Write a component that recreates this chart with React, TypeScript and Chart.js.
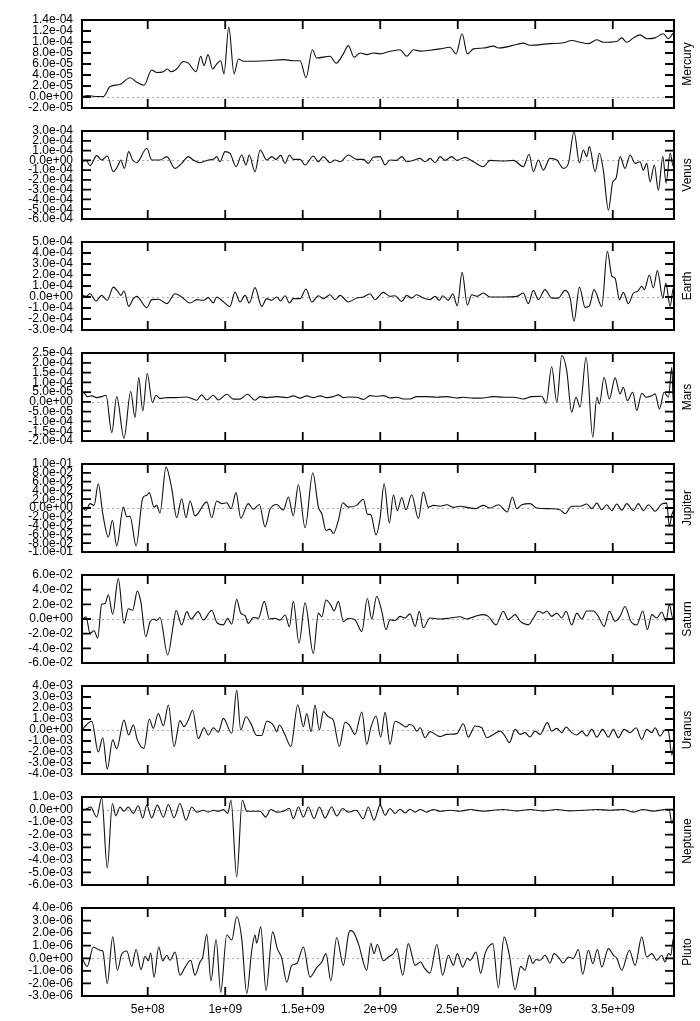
import React, { useEffect, useRef } from 'react';
import { Chart, registerables } from 'chart.js';

Chart.register(...registerables);

type Pt = [number, number];

// x values are in units of 1e9
const X_MIN = 0.076;
const X_MAX = 3.895;
const X_TICKS = [0.5, 1, 1.5, 2, 2.5, 3, 3.5];
const X_TICK_LABELS = ['5e+08', '1e+09', '1.5e+09', '2e+09', '2.5e+09', '3e+09', '3.5e+09'];

const NAMES = ['Mercury', 'Venus', 'Earth', 'Mars', 'Jupiter', 'Saturn', 'Uranus', 'Neptune', 'Pluto'];

// ---------- Mercury (y in 1e-5) ----------
const MERCURY_UNIT = 1e-5;
const MERCURY_YTICKS = [-2e-5, 0, 2e-5, 4e-5, 6e-5, 8e-5, 1e-4, 1.2e-4, 1.4e-4];
const MERCURY: Pt[] = [
  [0.070, 0.0], [0.115, 0.27], [0.160, 0.1], [0.214, 0.1], [0.257, 1.9], [0.321, 2.27], [0.386, 3.5],
  [0.429, 2.7], [0.476, 2.15], [0.526, 4.9], [0.558, 4.45], [0.601, 4.6], [0.626, 5.1], [0.650, 4.6],
  [0.687, 5.1], [0.730, 6.45], [0.762, 6.15], [0.812, 4.6], [0.842, 7.4], [0.863, 5.7], [0.889, 7.7],
  [0.919, 5.1], [0.941, 5.85], [0.971, 6.6], [0.992, 4.2], [1.023, 12.7], [1.057, 4.2], [1.085, 6.9],
  [1.117, 6.5], [1.268, 6.6], [1.375, 6.8], [1.439, 6.6], [1.483, 6.6], [1.521, 3.5], [1.562, 8.6],
  [1.590, 7.1], [1.676, 7.4], [1.715, 6.15], [1.762, 7.85], [1.794, 9.35], [1.831, 7.25], [1.870, 8.0],
  [1.913, 7.7], [1.955, 8.0], [1.999, 7.85], [2.042, 8.15], [2.128, 8.6], [2.171, 7.4], [2.214, 8.6],
  [2.257, 8.35], [2.321, 8.5], [2.386, 8.75], [2.450, 9.05], [2.489, 7.85], [2.528, 11.5], [2.562, 7.85],
  [2.601, 8.75], [2.665, 8.9], [2.730, 9.25], [2.762, 8.9], [2.881, 9.55], [2.923, 9.8], [2.966, 9.4],
  [3.095, 9.7], [3.181, 9.85], [3.235, 10.27], [3.289, 9.95], [3.343, 9.7], [3.397, 10.4], [3.439, 9.95],
  [3.526, 10.1], [3.558, 10.75], [3.590, 9.95], [3.633, 10.75], [3.676, 11.3], [3.719, 10.6], [3.773, 10.75],
  [3.826, 11.5], [3.859, 10.6], [3.887, 11.5], [3.902, 11.8],
];

// ---------- Venus (y in 1e-4) ----------
const VENUS_UNIT = 1e-4;
const VENUS_YTICKS = [-6e-4, -5e-4, -4e-4, -3e-4, -2e-4, -1e-4, 0, 1e-4, 2e-4, 3e-4];
const VENUS: Pt[] = [
  [0.070, -0.14], [0.102, 0], [0.128, -0.55], [0.171, 0.48], [0.203, 0.03], [0.239, 0.44], [0.278, -1.16],
  [0.310, -0.48], [0.326, 0.03], [0.349, -0.82], [0.377, 0.89], [0.403, 0.03], [0.429, -0.24], [0.494, 1.23],
  [0.526, 0.03], [0.579, 0.03], [0.623, 0.38], [0.676, -0.82], [0.719, -0.31], [0.762, 0.38], [0.794, 0.03],
  [0.837, -0.24], [0.891, 0.03], [0.923, 0.1], [0.945, 0.38], [0.966, -0.14], [0.999, 0.89], [1.031, 0.72],
  [1.070, -0.65], [1.106, 0.55], [1.134, -0.48], [1.155, 0.55], [1.192, -1.16], [1.225, 1.06], [1.268, 0.03],
  [1.300, 0.38], [1.328, 0.1], [1.358, 0.51], [1.386, -0.31], [1.414, 0.55], [1.439, 0.1], [1.483, 0.1],
  [1.515, -0.48], [1.568, 0.44], [1.601, -0.14], [1.633, 0.38], [1.676, -0.24], [1.708, 0.03], [1.741, -0.14],
  [1.794, 0.55], [1.848, 0.1], [1.891, 0.1], [1.923, -0.31], [1.955, 0.31], [1.999, 0.38], [2.031, -0.48],
  [2.063, 0.03], [2.106, 0], [2.139, 0.38], [2.171, -0.14], [2.214, 0], [2.257, 0.2], [2.289, -0.14],
  [2.321, 0.2], [2.354, -0.24], [2.386, 0.38], [2.418, 0], [2.461, 0.38], [2.494, 0], [2.547, 0.3],
  [2.601, -0.14], [2.665, -0.65], [2.708, 0], [2.794, -0.07], [2.859, 0], [2.923, -0.65], [2.960, 0.62],
  [2.988, -1.16], [3.020, 0.03], [3.052, -1.0], [3.095, 0.2], [3.139, 0.03], [3.181, -0.82], [3.214, -0.31],
  [3.250, 2.93], [3.285, -0.24], [3.310, 1.06], [3.332, 0.38], [3.349, 1.4], [3.386, -1.16], [3.414, 0.72],
  [3.439, -1.0], [3.472, -5.1], [3.500, -2.2], [3.521, -1.84], [3.547, 0.38], [3.579, -0.82], [3.612, 0.55],
  [3.644, -0.31], [3.676, -0.14], [3.697, -1.0], [3.719, -0.31], [3.741, -2.2], [3.768, -0.48], [3.794, -3.05],
  [3.823, 0.38], [3.844, -2.35], [3.870, 0.72], [3.891, -0.65], [3.902, 0.38],
];

// ---------- Earth (y in 1e-4) ----------
const EARTH_UNIT = 1e-4;
const EARTH_YTICKS = [-3e-4, -2e-4, -1e-4, 0, 1e-4, 2e-4, 3e-4, 4e-4, 5e-4];
const EARTH: Pt[] = [
  [0.070, 0.24], [0.102, 0.06], [0.128, 0.3], [0.166, -0.36], [0.203, 0.15], [0.239, -0.3], [0.278, 0.9],
  [0.310, 0.45], [0.326, 0.15], [0.347, 0.55], [0.377, -0.85], [0.407, -0.15], [0.429, 0.06], [0.494, -0.97],
  [0.526, -0.24], [0.568, -0.2], [0.623, -0.6], [0.676, 0.3], [0.719, 0], [0.773, -0.55], [0.816, -0.24],
  [0.859, -0.3], [0.891, -0.06], [0.923, -0.55], [0.945, 0], [0.977, -0.3], [1.031, -0.85], [1.063, 0.45],
  [1.095, -0.45], [1.128, 0.15], [1.155, -0.55], [1.192, 0.85], [1.235, -0.85], [1.268, -0.15], [1.300, -0.3],
  [1.332, 0], [1.358, -0.36], [1.386, 0.12], [1.414, -0.55], [1.439, -0.15], [1.483, -0.15], [1.521, 0.73],
  [1.558, -0.45], [1.601, 0.12], [1.633, -0.15], [1.676, 0.2], [1.708, -0.24], [1.741, 0.15], [1.794, -0.45],
  [1.848, -0.1], [1.891, 0], [1.934, 0.3], [1.966, -0.24], [2.020, 0.42], [2.063, 0.06], [2.095, 0.12],
  [2.139, -0.4], [2.171, 0.15], [2.203, -0.1], [2.235, 0.2], [2.278, -0.1], [2.321, -0.24], [2.354, 0.06],
  [2.381, -0.3], [2.403, 0.12], [2.439, -0.3], [2.468, 0.3], [2.497, -0.8], [2.528, 2.24], [2.562, -0.73],
  [2.590, 0.2], [2.623, 0.06], [2.665, 0.36], [2.708, 0], [2.794, 0], [2.881, 0.06], [2.923, 0.36],
  [2.955, -0.6], [2.988, 0.6], [3.020, -0.24], [3.063, 0.67], [3.106, -0.1], [3.149, -0.1], [3.192, 0.6],
  [3.225, -0.1], [3.250, -2.2], [3.285, 0.9], [3.321, -0.94], [3.349, -0.8], [3.379, 0.67], [3.429, -0.85],
  [3.465, 4.15], [3.494, 1.9], [3.515, 1.7], [3.543, -0.24], [3.568, 0.42], [3.601, -0.6], [3.633, 0.36],
  [3.659, 0.5], [3.687, 0.97], [3.704, 0.67], [3.736, 2.0], [3.762, 0.82], [3.788, 2.4], [3.823, -0.1],
  [3.842, 1.27], [3.870, -0.85], [3.891, 0.82], [3.902, 0.06],
];

// ---------- Mars (y in 1e-5) ----------
const MARS_UNIT = 1e-5;
const MARS_YTICKS = [-2e-4, -1.5e-4, -1e-4, -5e-5, 0, 5e-5, 1e-4, 1.5e-4, 2e-4, 2.5e-4];
const MARS: Pt[] = [
  [0.070, -2.0], [0.085, 4.8], [0.110, 2.7], [0.139, 3.1], [0.171, 2.2], [0.203, 2.7], [0.231, 3.4],
  [0.268, -15.7], [0.300, 2.7], [0.347, -18.6], [0.390, 5.3], [0.418, -8.0], [0.442, 12.4], [0.468, -4.6],
  [0.497, 14.5], [0.530, -0.3], [0.554, 3.4], [0.579, 1.7], [0.623, 2.2], [0.687, 2.2], [0.752, 2.5],
  [0.816, 0.85], [0.848, 3.6], [0.881, 1.0], [0.923, 3.4], [0.955, 1.0], [1.010, 3.9], [1.052, 1.4],
  [1.095, 1.4], [1.143, 3.9], [1.192, 0.85], [1.225, 2.7], [1.268, 2.2], [1.332, 2.7], [1.397, 2.2],
  [1.439, 3.1], [1.483, 1.9], [1.526, 3.1], [1.568, 2.2], [1.612, 3.1], [1.655, 2.2], [1.697, 2.7],
  [1.730, 3.6], [1.762, 2.2], [1.801, 2.5], [1.848, 2.4], [1.891, 1.2], [1.934, 3.2], [1.977, 2.9],
  [2.020, 3.2], [2.063, 2.0], [2.106, 2.4], [2.149, 1.5], [2.192, 1.5], [2.235, 2.7], [2.300, 2.7],
  [2.365, 2.4], [2.429, 2.7], [2.494, 2.0], [2.536, 2.4], [2.601, 1.9], [2.665, 2.0], [2.730, 2.7],
  [2.794, 2.4], [2.859, 2.4], [2.923, 1.5], [2.977, 2.7], [3.042, 2.9], [3.070, -0.7], [3.106, 18],
  [3.139, -0.2], [3.171, 23.7], [3.203, 16], [3.235, -5.3], [3.263, 2.4], [3.289, -2.7], [3.328, 22.8],
  [3.371, -18], [3.397, 2.4], [3.414, -1.0], [3.444, 12.6], [3.478, 1.5], [3.515, 12.3], [3.547, 4.1],
  [3.568, 7.5], [3.594, 0.7], [3.629, 4.9], [3.655, -4.4], [3.687, 4.4], [3.715, 2.4], [3.752, 3.2],
  [3.773, 4.1], [3.801, -3.6], [3.831, 4.9], [3.859, 2.4], [3.881, 17.7], [3.891, -1.0], [3.902, 12.6],
];

// ---------- Jupiter (y in 1e-2) ----------
const JUPITER_UNIT = 1e-2;
const JUPITER_YTICKS = [-0.1, -0.08, -0.06, -0.04, -0.02, 0, 0.02, 0.04, 0.06, 0.08, 0.1];
const JUPITER: Pt[] = [
  [0.074, 0.2], [0.102, -0.5], [0.128, 1.0], [0.154, 0.6], [0.181, 5.5], [0.210, -1.3], [0.246, -6.6],
  [0.272, -2.8], [0.300, -8.6], [0.343, 0.2], [0.365, -2.0], [0.386, -1.9], [0.425, -8.6], [0.468, 2.3],
  [0.494, 2.9], [0.510, 3.5], [0.541, 0.2], [0.558, 0.6], [0.579, -1.1], [0.618, 9.3], [0.655, 4.4],
  [0.687, -2.2], [0.719, 2.1], [0.747, -2.2], [0.773, 1.6], [0.805, -1.8], [0.881, 1.4], [0.913, -2.2],
  [0.945, 1.6], [0.977, 1.0], [1.010, 1.2], [1.037, -0.2], [1.070, 3.5], [1.100, -2.3], [1.149, 1.0],
  [1.181, -0.3], [1.220, 0.8], [1.257, -4.3], [1.289, -0.3], [1.332, 0.8], [1.375, -0.5], [1.407, 2.5],
  [1.439, -1.8], [1.472, 5.3], [1.515, -4.5], [1.565, 8.0], [1.601, 0.2], [1.623, -1.3], [1.650, -5.1],
  [1.676, -4.8], [1.697, -5.8], [1.730, -2.8], [1.758, 1.2], [1.794, 0.2], [1.848, 0.6], [1.891, 2.0],
  [1.917, -1.4], [1.939, -1.5], [1.973, -6.1], [1.999, -2.3], [2.025, 5.5], [2.059, -3.4], [2.085, 3.0],
  [2.110, -0.6], [2.139, 2.4], [2.166, -0.4], [2.203, 3.0], [2.246, -2.4], [2.278, 3.6], [2.310, 0.2],
  [2.343, 0.6], [2.386, 0.4], [2.429, 0.75], [2.472, 0.15], [2.515, 0.4], [2.558, 0.15], [2.612, -0.15],
  [2.665, 0.6], [2.708, 0], [2.762, 0.75], [2.820, -0.9], [2.852, 2.5], [2.881, -0.15], [2.913, 0.75],
  [2.966, 1.0], [3.010, 0], [3.095, -0.15], [3.160, -0.4], [3.192, -1.3], [3.235, 0.4], [3.289, 0.4],
  [3.332, 0.9], [3.365, -0.15], [3.397, 1.1], [3.429, -0.4], [3.461, 0.75], [3.494, -0.6], [3.526, 0.9],
  [3.558, -0.5], [3.590, 1.0], [3.633, -0.6], [3.665, 1.0], [3.697, -0.6], [3.730, 0.75], [3.773, -0.75],
  [3.816, 0.9], [3.848, 1.1], [3.865, -4.2], [3.881, -1.5], [3.902, 0],
];

// ---------- Saturn (y in 1e-2) ----------
const SATURN_UNIT = 1e-2;
const SATURN_YTICKS = [-0.06, -0.04, -0.02, 0, 0.02, 0.04, 0.06];
const SATURN: Pt[] = [
  [0.074, -0.14], [0.102, 0.3], [0.128, -1.95], [0.154, -1.6], [0.177, -2.6], [0.203, 2.0], [0.225, 2.1],
  [0.246, 3.3], [0.274, 0.64], [0.310, 5.5], [0.347, -0.6], [0.375, 1.4], [0.403, 1.2], [0.433, 3.8],
  [0.455, 2.4], [0.487, -2.4], [0.515, -0.36], [0.541, 0], [0.558, -0.2], [0.579, 0.2], [0.629, -4.9],
  [0.665, -0.8], [0.683, 1.2], [0.719, -0.8], [0.752, 1.0], [0.779, 0], [0.826, 1.0], [0.859, -0.14],
  [0.913, 1.2], [0.945, -0.45], [0.988, -0.8], [1.016, 0.1], [1.042, -0.7], [1.074, 2.7], [1.100, 0.8],
  [1.128, 0.45], [1.149, -0.6], [1.181, 0.2], [1.214, 0.1], [1.252, 2.4], [1.285, 0], [1.321, 0.1],
  [1.354, -0.14], [1.386, 0.55], [1.414, -1.05], [1.439, 2.4], [1.476, -3.3], [1.515, 2.2], [1.568, -4.7],
  [1.601, 0.8], [1.623, 0.3], [1.650, 2.6], [1.681, 1.9], [1.702, 1.1], [1.730, 2.4], [1.762, -0.36],
  [1.794, 0.1], [1.837, -0.1], [1.881, -1.7], [1.917, 2.8], [1.945, 0], [1.977, 3.1], [2.010, 1.05],
  [2.037, -1.45], [2.063, -0.1], [2.095, -0.2], [2.128, 0.36], [2.160, 0.14], [2.192, 0.7], [2.225, -1.0],
  [2.252, 1.05], [2.278, -1.2], [2.321, 0.14], [2.386, 0], [2.450, 0.14], [2.515, 0.3], [2.558, 0],
  [2.612, 0.36], [2.665, 0.6], [2.697, 0.36], [2.747, -0.8], [2.794, 1.05], [2.826, -0.1], [2.870, 0.6],
  [2.902, -0.3], [2.955, -0.8], [2.988, 0.14], [3.020, 1.05], [3.052, 0.8], [3.074, 1.1], [3.106, 0.36],
  [3.139, 0.8], [3.171, 0.14], [3.199, 1.05], [3.235, -0.8], [3.268, 0.8], [3.300, 0], [3.332, 1.1],
  [3.375, 1.1], [3.407, 0.36], [3.444, -1.0], [3.478, 1.05], [3.515, -0.3], [3.547, 0.36], [3.579, 1.7],
  [3.616, -0.3], [3.655, -0.8], [3.694, 1.1], [3.723, -1.45], [3.752, 0.6], [3.784, 0.14], [3.816, 0.95],
  [3.844, -0.3], [3.865, 2.0], [3.887, 0.14], [3.902, 1.95],
];

// ---------- Uranus (y in 1e-3) ----------
const URANUS_UNIT = 1e-3;
const URANUS_YTICKS = [-4e-3, -3e-3, -2e-3, -1e-3, 0, 1e-3, 2e-3, 3e-3, 4e-3];
const URANUS: Pt[] = [
  [0.074, 0], [0.139, 0.8], [0.181, -2.0], [0.210, -0.7], [0.239, -3.55], [0.274, -0.9], [0.300, -1.7],
  [0.347, 0.9], [0.377, -0.45], [0.407, 0.45], [0.433, -0.9], [0.476, -1.67], [0.510, 1.0], [0.536, 0.15],
  [0.568, 1.5], [0.601, 0.4], [0.633, 2.27], [0.670, -1.5], [0.708, 0.85], [0.734, 0.3], [0.762, 0.9],
  [0.790, 1.8], [0.826, -0.8], [0.863, 0.2], [0.891, -0.45], [0.923, 0.2], [0.955, -0.2], [0.988, 1.06],
  [1.042, -0.3], [1.074, 3.6], [1.100, 0], [1.134, 1.2], [1.165, 0.6], [1.203, -0.5], [1.235, -0.5],
  [1.268, 0.8], [1.310, 0.45], [1.332, -0.15], [1.349, 0.45], [1.386, -0.45], [1.423, -1.5], [1.468, 2.3],
  [1.504, 0.3], [1.526, 1.5], [1.554, -0.15], [1.579, 2.27], [1.607, 0], [1.633, 1.67], [1.665, 1.2],
  [1.697, 0.9], [1.736, -1.5], [1.773, 0.7], [1.801, 0.45], [1.837, -0.4], [1.881, 1.64], [1.913, -1.3],
  [1.939, 0.2], [1.973, 1.27], [2.003, -0.64], [2.031, 1.6], [2.063, -1.3], [2.095, 0.8], [2.139, 0.5],
  [2.166, 0.27], [2.188, 0.5], [2.214, 0.36], [2.235, -0.1], [2.257, 0.2], [2.289, -0.7], [2.321, -0.15],
  [2.386, -0.6], [2.429, -0.4], [2.494, -0.33], [2.536, 0.57], [2.568, -0.64], [2.612, 0.36], [2.655, 0.2],
  [2.687, -0.7], [2.730, -0.4], [2.773, -0.1], [2.805, -0.55], [2.833, -1.15], [2.870, 0.06], [2.902, -0.4],
  [2.934, -0.24], [2.966, -0.64], [2.999, -0.1], [3.031, -0.4], [3.078, 0.67], [3.106, -0.1], [3.139, 0.15],
  [3.171, -0.24], [3.199, 0.27], [3.235, -0.24], [3.268, -0.45], [3.300, -0.1], [3.332, -0.55], [3.365, 0.06],
  [3.397, -0.64], [3.435, 0.06], [3.472, -0.64], [3.504, 0.06], [3.536, -0.7], [3.573, 0.06], [3.612, -0.24],
  [3.650, 0.2], [3.687, -0.85], [3.719, 0.06], [3.752, -0.24], [3.773, 0.2], [3.805, -0.55], [3.837, 0],
  [3.859, -0.1], [3.881, -2.3], [3.902, -0.1],
];

// ---------- Neptune (y in 1e-3) ----------
const NEPTUNE_UNIT = 1e-3;
const NEPTUNE_YTICKS = [-6e-3, -5e-3, -4e-3, -3e-3, -2e-3, -1e-3, 0, 1e-3];
const NEPTUNE: Pt[] = [
  [0.074, -0.05], [0.102, 0.03], [0.132, 0.2], [0.171, -0.6], [0.203, 0.93], [0.239, -4.64], [0.272, 0.48],
  [0.294, -0.5], [0.321, 0.2], [0.347, -0.13], [0.375, 0.2], [0.407, -0.3], [0.439, 0.3], [0.468, -0.66],
  [0.494, 0.35], [0.526, -0.66], [0.562, 0.35], [0.601, -0.6], [0.633, 0.4], [0.670, -0.66], [0.708, 0.48],
  [0.747, -0.85], [0.784, 0.2], [0.816, -0.2], [0.859, -0.05], [0.891, -0.2], [0.923, -0.05], [0.955, -0.13],
  [0.988, 0], [1.016, -0.3], [1.037, 0.74], [1.074, -5.36], [1.110, 0.74], [1.139, -0.13], [1.181, -0.13],
  [1.225, -0.13], [1.261, -0.6], [1.294, 0], [1.332, -0.2], [1.375, -0.13], [1.414, 0.08], [1.439, -0.72],
  [1.472, 0.2], [1.504, -0.6], [1.536, 0.2], [1.573, -0.72], [1.607, 0.2], [1.644, -0.66], [1.687, 0.2],
  [1.719, -0.5], [1.758, 0.08], [1.794, -0.2], [1.844, -0.05], [1.891, -0.72], [1.923, 0.2], [1.960, -0.85],
  [1.999, 0.35], [2.031, -0.45], [2.063, 0.08], [2.095, -0.3], [2.128, 0.03], [2.160, -0.27], [2.192, 0.03],
  [2.225, -0.2], [2.257, 0], [2.300, -0.2], [2.343, 0], [2.386, -0.13], [2.450, -0.05], [2.515, -0.13],
  [2.579, 0], [2.665, -0.13], [2.730, -0.05], [2.794, 0], [2.881, -0.1], [2.966, 0], [3.052, -0.1],
  [3.139, 0], [3.225, -0.1], [3.310, -0.05], [3.397, 0], [3.483, -0.05], [3.568, 0], [3.633, -0.2],
  [3.697, 0], [3.762, -0.13], [3.837, 0], [3.865, -0.05], [3.881, -1.1], [3.902, -0.05],
];

// ---------- Pluto (y in 1e-6) ----------
const PLUTO_UNIT = 1e-6;
const PLUTO_YTICKS = [-3e-6, -2e-6, -1e-6, 0, 1e-6, 2e-6, 3e-6, 4e-6];
const PLUTO: Pt[] = [
  [0.074, 0.05], [0.110, -0.64], [0.149, 0.9], [0.192, 0.64], [0.210, 0.58], [0.239, -2.0], [0.274, 1.7],
  [0.304, -0.95], [0.332, 0.32], [0.365, 0.58], [0.397, -0.64], [0.425, 0.7], [0.457, -0.9], [0.483, 0.16],
  [0.504, -0.2], [0.519, 0.42], [0.541, -1.5], [0.571, 0.9], [0.597, -0.2], [0.623, 0.24], [0.644, -0.16],
  [0.676, 0.5], [0.708, -1.35], [0.741, -0.7], [0.777, -0.16], [0.805, -1.35], [0.837, -0.3], [0.855, 0.1],
  [0.881, 1.9], [0.908, -1.8], [0.941, 1.5], [0.971, -2.7], [1.010, 1.85], [1.042, 1.45], [1.074, 3.3],
  [1.106, 1.6], [1.139, -2.8], [1.171, 0.64], [1.192, 1.85], [1.203, 1.2], [1.229, 2.5], [1.263, -2.55],
  [1.306, 2.1], [1.336, 0.77], [1.365, 0], [1.397, -1.9], [1.429, -0.56], [1.461, -0.42], [1.504, 0.9],
  [1.547, -1.5], [1.590, -0.74], [1.623, -0.3], [1.650, 0.37], [1.681, -1.8], [1.719, 1.65], [1.762, -0.56],
  [1.794, 1.85], [1.805, 2.2], [1.826, 2.1], [1.859, 1.17], [1.913, -0.95], [1.939, 1.2], [1.960, 0.37],
  [1.981, 1.1], [2.020, -0.2], [2.052, 0.1], [2.085, 0.37], [2.106, 0.77], [2.145, -1.35], [2.181, 1.17],
  [2.225, -0.56], [2.261, -0.3], [2.283, -0.74], [2.321, -1.17], [2.365, 1.1], [2.403, -1.35], [2.439, 0.24],
  [2.472, -0.56], [2.497, 0.37], [2.532, -0.7], [2.562, 0], [2.579, -0.16], [2.618, 0.5], [2.648, -1.2],
  [2.676, 0.37], [2.697, 0.9], [2.726, 1.17], [2.762, -2.33], [2.799, 1.7], [2.833, 0.24], [2.870, -2.5],
  [2.906, -0.64], [2.934, -0.95], [2.962, 0.24], [2.984, -0.42], [3.005, -0.1], [3.031, -0.16], [3.063, 0.24],
  [3.095, -0.37], [3.121, 0.37], [3.149, 0.1], [3.181, -0.37], [3.214, 0.1], [3.246, 0], [3.278, 0.7],
  [3.306, -1.27], [3.343, 0.64], [3.371, -0.42], [3.401, 0.7], [3.429, -0.7], [3.472, 0.77], [3.504, 0.24],
  [3.526, 0], [3.558, -0.95], [3.607, 0.64], [3.644, -0.56], [3.687, 1.7], [3.719, 0.1], [3.752, 0.37],
  [3.784, -0.16], [3.816, 0.24], [3.837, -0.3], [3.859, 0.37], [3.874, 0.24], [3.891, 1.56], [3.902, 0.64],
];

const SERIES: Pt[][] = [MERCURY, VENUS, EARTH, MARS, JUPITER, SATURN, URANUS, NEPTUNE, PLUTO];
const UNITS = [MERCURY_UNIT, VENUS_UNIT, EARTH_UNIT, MARS_UNIT, JUPITER_UNIT, SATURN_UNIT, URANUS_UNIT, NEPTUNE_UNIT, PLUTO_UNIT];
const YTICKS = [MERCURY_YTICKS, VENUS_YTICKS, EARTH_YTICKS, MARS_YTICKS, JUPITER_YTICKS, SATURN_YTICKS, URANUS_YTICKS, NEPTUNE_YTICKS, PLUTO_YTICKS];

// layout
const W = 700;
const FIRST_TOP = 20;
const STEP = 111;
const PLOT_H = 88;
const PAD = 11;
const BOTTOM_AXIS_H = 25;
const PLOT_LEFT = 82;
const PLOT_RIGHT = 674;
const TICK_LEN = 9;
const FONT = '"Liberation Sans", Arial, Helvetica, sans-serif';

function fmtExp(v: number): string {
  if (Math.abs(v) < 1e-30) return '0.0e+00';
  const [m, e] = v.toExponential(1).split('e');
  const n = parseInt(e, 10);
  return m + 'e' + (n < 0 ? '-' : '+') + String(Math.abs(n)).padStart(2, '0');
}

function makeFramePlugin(name: string, yTicks: number[]) {
  return {
    id: 'gnuframe',
    beforeDatasetsDraw(chart: any) {
      const { ctx, chartArea: a, scales } = chart;
      const y0 = Math.round(scales.y.getPixelForValue(0)) + 0.5;
      ctx.save();
      ctx.strokeStyle = '#a8a8a8';
      ctx.lineWidth = 1;
      ctx.setLineDash([2, 3]);
      ctx.beginPath();
      ctx.moveTo(a.left, y0);
      ctx.lineTo(a.right, y0);
      ctx.stroke();
      ctx.restore();
    },
    afterDatasetsDraw(chart: any) {
      const { ctx, chartArea: a, scales } = chart;
      ctx.save();
      ctx.strokeStyle = '#000';
      ctx.lineWidth = 1.8;
      ctx.beginPath();
      for (const v of yTicks) {
        const py = scales.y.getPixelForValue(v);
        ctx.moveTo(a.left, py);
        ctx.lineTo(a.left + TICK_LEN, py);
        ctx.moveTo(a.right, py);
        ctx.lineTo(a.right - TICK_LEN, py);
      }
      for (const v of X_TICKS) {
        const px = scales.x.getPixelForValue(v);
        ctx.moveTo(px, a.top);
        ctx.lineTo(px, a.top + TICK_LEN);
        ctx.moveTo(px, a.bottom);
        ctx.lineTo(px, a.bottom - TICK_LEN);
      }
      ctx.stroke();
      ctx.lineWidth = 2;
      ctx.strokeRect(a.left, a.top, a.right - a.left, a.bottom - a.top);
      ctx.fillStyle = '#000';
      ctx.font = '12px ' + FONT;
      ctx.translate(688, (a.top + a.bottom) / 2);
      ctx.rotate(-Math.PI / 2);
      ctx.textAlign = 'center';
      ctx.textBaseline = 'middle';
      ctx.fillText(name, 0, 0);
      ctx.restore();
    },
  };
}

export default function App() {
  const refs = useRef<(HTMLCanvasElement | null)[]>([]);

  useEffect(() => {
    Chart.defaults.font.family = FONT;
    Chart.defaults.font.size = 12;
    Chart.defaults.color = '#000';
    const charts: Chart[] = [];
    NAMES.forEach((name, i) => {
      const canvas = refs.current[i];
      if (!canvas) return;
      const last = i === NAMES.length - 1;
      const unit = UNITS[i];
      const yTicks = YTICKS[i];
      const data = SERIES[i].map(([x, y]) => ({ x, y: y * unit }));
      const chart = new Chart(canvas, {
        type: 'line',
        data: {
          datasets: [
            {
              data,
              borderColor: '#111',
              borderWidth: 1.1,
              pointRadius: 0,
              fill: false,
              cubicInterpolationMode: 'monotone',
            },
          ],
        },
        options: {
          animation: false,
          responsive: false,
          devicePixelRatio: 1,
          events: [],
          layout: { padding: { left: 0, right: W - PLOT_RIGHT, top: PAD, bottom: last ? 0 : PAD } },
          plugins: { legend: { display: false }, tooltip: { enabled: false }, title: { display: false } },
          scales: {
            x: {
              type: 'linear',
              min: X_MIN,
              max: X_MAX,
              display: last,
              position: 'bottom',
              grid: { display: false, drawTicks: false },
              border: { display: false },
              afterBuildTicks: (scale: any) => {
                scale.ticks = X_TICKS.map((v) => ({ value: v }));
              },
              afterFit: (scale: any) => {
                scale.height = last ? BOTTOM_AXIS_H : 0;
                scale.paddingLeft = 0;
                scale.paddingRight = 0;
                scale.paddingTop = 0;
                scale.paddingBottom = 0;
              },
              ticks: {
                autoSkip: false,
                maxRotation: 0,
                minRotation: 0,
                padding: 6,
                color: '#000',
                font: { size: 12, family: FONT },
                callback: (_v: any, idx: number) => X_TICK_LABELS[idx],
              },
            },
            y: {
              type: 'linear',
              min: yTicks[0],
              max: yTicks[yTicks.length - 1],
              position: 'left',
              grid: { display: false, drawTicks: false },
              border: { display: false },
              afterBuildTicks: (scale: any) => {
                scale.ticks = yTicks.map((v) => ({ value: v }));
              },
              afterFit: (scale: any) => {
                scale.width = PLOT_LEFT;
                scale.paddingTop = 0;
                scale.paddingBottom = 0;
                scale.paddingLeft = 0;
                scale.paddingRight = 0;
              },
              ticks: {
                autoSkip: false,
                padding: 9,
                color: '#000',
                font: { size: 12, family: FONT },
                callback: (v: any) => fmtExp(Number(v)),
              },
            },
          },
        },
        plugins: [makeFramePlugin(name, yTicks)],
      } as any);
      charts.push(chart);
    });
    return () => charts.forEach((c) => c.destroy());
  }, []);

  return (
    <div style={{ position: 'absolute', left: 0, top: 0, width: W, height: 1021, background: '#fff' }}>
      {NAMES.map((name, i) => {
        const last = i === NAMES.length - 1;
        const top = FIRST_TOP + STEP * i - PAD;
        const h = PLOT_H + PAD + (last ? BOTTOM_AXIS_H : PAD);
        return (
          <canvas
            key={name}
            ref={(el) => {
              refs.current[i] = el;
            }}
            width={W}
            height={h}
            style={{ position: 'absolute', left: 0, top, width: W, height: h, display: 'block' }}
          />
        );
      })}
    </div>
  );
}
